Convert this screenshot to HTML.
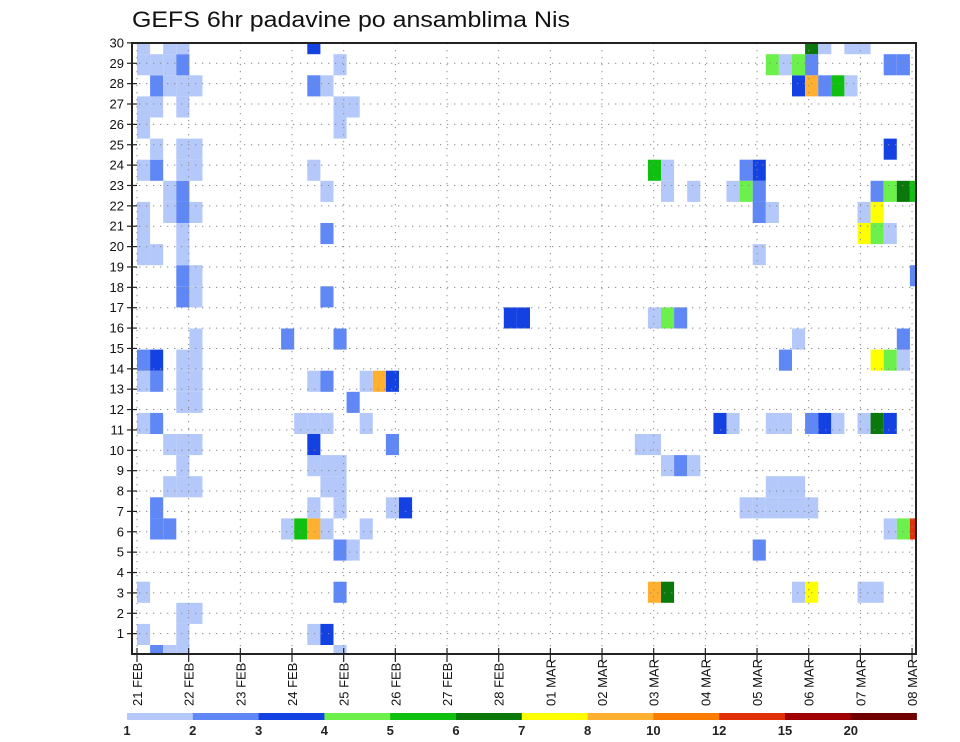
<!DOCTYPE html>
<html>
<head>
<meta charset="utf-8">
<style>
html,body{margin:0;padding:0;background:#fff;}
svg{display:block;font-family:"Liberation Sans",sans-serif;}
</style>
</head>
<body>
<svg id="chart" width="960" height="742" viewBox="0 0 960 742" xmlns="http://www.w3.org/2000/svg">
  <text x="132" y="27" font-size="22" textLength="438" lengthAdjust="spacingAndGlyphs" fill="#111">GEFS 6hr padavine po ansamblima Nis</text>
  <g id="cells"></g>
  <g id="grid"></g>
  <g id="axes"></g>
  <g id="legend"></g>
</svg>
<script>
// ---- data ----
const dayLabels = ["21 FEB","22 FEB","23 FEB","24 FEB","25 FEB","26 FEB","27 FEB","28 FEB","01 MAR","02 MAR","03 MAR","04 MAR","05 MAR","06 MAR","07 MAR","08 MAR"];
const memberTicks = [1,2,3,4,5,6,7,8,9,10,11,12,13,14,15,16,17,18,19,20,21,22,23,24,25,26,27,28,29,30];
const legendLevels = [1,2,3,4,5,6,7,8,10,12,15,20];
const legendColors = ["#b4c8fa","#5f87f5","#1442e2","#6cf04c","#10c010","#0a780a","#ffff00","#ffb030","#fc7c00","#e03008","#a00000","#700000"];
// cells: member index, 6-hour step index, precipitation (mm)
const cellMember = [];
const cellStep = [];
const cellValue = [];
const rawRows = {
29:[[0,1.5],[2,1.5],[3,1.5],[13,3.5],[51,6.5],[52,1.5],[54,1.5],[55,1.5]],
28:[[0,1.5],[1,1.5],[2,1.5],[3,2.5],[15,1.5],[48,4.5],[49,1.5],[50,4.5],[51,2.5],[57,2.5],[58,2.5]],
27:[[1,2.5],[2,1.5],[3,1.5],[4,1.5],[13,2.5],[14,1.5],[50,3.5],[51,9],[52,2.5],[53,5.5],[54,1.5]],
26:[[0,1.5],[1,1.5],[3,1.5],[15,1.5],[16,1.5]],
25:[[0,1.5],[15,1.5]],
24:[[1,1.5],[3,1.5],[4,1.5],[57,3.5]],
23:[[0,1.5],[1,2.5],[3,1.5],[4,1.5],[13,1.5],[39,5.5],[40,1.5],[46,2.5],[47,3.5]],
22:[[2,1.5],[3,2.5],[14,1.5],[40,1.5],[42,1.5],[45,1.5],[46,4.5],[47,2.5],[56,2.5],[57,4.5],[58,6.5],[59,5.5]],
21:[[0,1.5],[2,1.5],[3,2.5],[4,1.5],[47,2.5],[48,1.5],[55,1.5],[56,7.5]],
20:[[0,1.5],[3,1.5],[14,2.5],[55,7.5],[56,4.5],[57,1.5]],
19:[[0,1.5],[1,1.5],[3,1.5],[47,1.5]],
18:[[3,2.5],[4,1.5],[59,2.5]],
17:[[3,2.5],[4,1.5],[14,2.5]],
16:[[28,3.5],[29,3.5],[39,1.5],[40,4.5],[41,2.5]],
15:[[4,1.5],[11,2.5],[15,2.5],[50,1.5],[58,2.5]],
14:[[0,2.5],[1,3.5],[3,1.5],[4,1.5],[49,2.5],[56,7.5],[57,4.5],[58,1.5]],
13:[[0,1.5],[1,2.5],[3,1.5],[4,1.5],[13,1.5],[14,2.5],[17,1.5],[18,9],[19,3.5]],
12:[[3,1.5],[4,1.5],[16,2.5]],
11:[[0,1.5],[1,2.5],[12,1.5],[13,1.5],[14,1.5],[17,1.5],[44,3.5],[45,1.5],[48,1.5],[49,1.5],[51,2.5],[52,3.5],[53,1.5],[55,1.5],[56,6.5],[57,3.5]],
10:[[2,1.5],[3,1.5],[4,1.5],[13,3.5],[19,2.5],[38,1.5],[39,1.5]],
9:[[3,1.5],[13,1.5],[14,1.5],[15,1.5],[40,1.5],[41,2.5],[42,1.5]],
8:[[2,1.5],[3,1.5],[4,1.5],[14,1.5],[15,1.5],[48,1.5],[49,1.5],[50,1.5]],
7:[[1,2.5],[13,1.5],[15,1.5],[19,1.5],[20,3.5],[46,1.5],[47,1.5],[48,1.5],[49,1.5],[50,1.5],[51,1.5]],
6:[[1,2.5],[2,2.5],[11,1.5],[12,5.5],[13,9],[14,1.5],[17,1.5],[57,1.5],[58,4.5],[59,13.5]],
5:[[15,2.5],[16,1.5],[47,2.5]],
3:[[0,1.5],[15,2.5],[39,9],[40,6.5],[50,1.5],[51,7.5],[55,1.5],[56,1.5]],
2:[[3,1.5],[4,1.5]],
1:[[0,1.5],[3,1.5],[13,1.5],[14,3.5]],
0:[[1,2.5],[2,1.5],[3,1.5],[15,1.5]]
};
Object.keys(rawRows).forEach(function(m){
  rawRows[m].forEach(function(p){ cellMember.push(+m); cellStep.push(p[0]); cellValue.push(p[1]); });
});

// ---- geometry ----
const NS = "http://www.w3.org/2000/svg";
const L = 132, R = 916, T = 43, B = 654;
function xDay(d){ return 137 + d * 51.67; }
function yTick(r){ return 654 - r * 20.37; }
function xStep(s){ return 137 + s * 13.1; }
function yMemberTop(m){ return 645 - m * 21.1; }
function colorFor(v){
  let idx = 0;
  for (let i = 0; i < legendLevels.length; i++) if (v >= legendLevels[i]) idx = i;
  return legendColors[idx];
}
function mk(tag, attrs, parent){
  const e = document.createElementNS(NS, tag);
  for (const k in attrs) e.setAttribute(k, attrs[k]);
  parent.appendChild(e);
  return e;
}

// ---- cells ----
const gc = document.getElementById("cells");
for (let i = 0; i < cellValue.length; i++) {
  let x0 = xStep(cellStep[i]), x1 = x0 + 13.1;
  let y0 = yMemberTop(cellMember[i]), y1 = y0 + 21.1;
  x0 = Math.max(x0, L); x1 = Math.min(x1, R);
  y0 = Math.max(y0, T); y1 = Math.min(y1, B);
  const r = mk("rect", {x:x0, y:y0, width:x1-x0, height:y1-y0, fill:colorFor(cellValue[i])}, gc);
  
  
}

// ---- grid ----
const gg = document.getElementById("grid");
for (let r = 1; r < memberTicks.length; r++) {
  const y = yTick(memberTicks[r-1]);
  const ln = mk("line", {x1:L, x2:R, y1:y, y2:y, stroke:"#8a8a8a", "stroke-width":1, "stroke-dasharray":"1.3 5.7"}, gg);
  
  
}
for (let d = 0; d < dayLabels.length; d++) {
  const x = xDay(d);
  const ln = mk("line", {x1:x, x2:x, y1:T, y2:B, stroke:"#8a8a8a", "stroke-width":1, "stroke-dasharray":"1.3 5.7"}, gg);
  
  
}

// ---- axes ----
const ga = document.getElementById("axes");
const frame = mk("rect", {x:L, y:T, width:R-L, height:B-T, fill:"none", stroke:"#222", "stroke-width":2}, ga);


for (let i = 0; i < memberTicks.length; i++) {
  const y = yTick(memberTicks[i]);
  const tk = mk("line", {x1:127, x2:137, y1:y, y2:y, stroke:"#222", "stroke-width":1.2}, ga);
  
  
  const t = mk("text", {x:124, y:y+4.5, "font-size":13, "text-anchor":"end", fill:"#111"}, ga);
  t.textContent = memberTicks[i];
  
  
}
for (let d = 0; d < dayLabels.length; d++) {
  const x = xDay(d);
  const tk = mk("line", {x1:x, x2:x, y1:B-6, y2:B+8, stroke:"#222", "stroke-width":1.2}, ga);
  
  
  const t = mk("text", {x:0, y:0, "font-size":13, "text-anchor":"start", fill:"#111",
    transform:"translate(" + (x + 5) + ",706) rotate(-90)"}, ga);
  t.textContent = dayLabels[d];
  
  
}

// ---- legend ----
const gl = document.getElementById("legend");
const segW = 65.8;
for (let i = 0; i < legendColors.length; i++) {
  const s = mk("rect", {x:127 + i*segW, y:713, width:segW+0.3, height:7, fill:legendColors[i]}, gl);
  
  
  const t = mk("text", {x:127 + i*segW, y:735, "font-size":13, "font-weight":"bold", "text-anchor":"middle", fill:"#222"}, gl);
  t.textContent = legendLevels[i];
  
  
}
</script>
</body>
</html>
